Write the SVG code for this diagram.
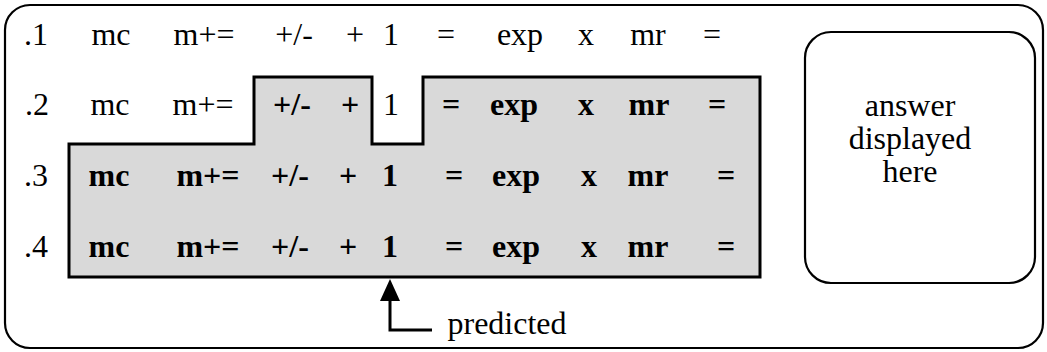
<svg xmlns="http://www.w3.org/2000/svg" width="1047" height="352" viewBox="0 0 1047 352" font-family="'Liberation Serif', 'Times New Roman', serif">
<style>
text{font-family:'Liberation Serif','Times New Roman',serif;font-size:32px;fill:#000;text-anchor:middle}
.s{font-weight:bold}
.box{fill:none;stroke:#000;stroke-width:2.2}
</style>
<rect width="1047" height="352" fill="#fff"/>
<g id="frame"><rect class="box" x="5" y="5" width="1038" height="343" rx="25" ry="25"/></g>
<g id="predicted-region">
<path d="M69,144 L254,144 L254,77 L372,77 L372,144 L423,144 L423,77 L760,77 L760,277 L69,277 Z" fill="#d9d9d9" stroke="#000" stroke-width="3"/>
</g>
<g id="row1" font-family="'Liberation Serif', serif">
<text x="36" y="45">.1</text><text x="111" y="45">mc</text><text x="204" y="45">m+=</text><text x="294" y="45">+/-</text><text x="355" y="45">+</text><text x="391" y="45">1</text><text x="446" y="45">=</text><text x="520" y="45">exp</text><text x="586" y="45">x</text><text x="648" y="45">mr</text><text x="712" y="45">=</text>
</g>
<g id="row2" font-family="'Liberation Serif', serif">
<text x="37" y="115">.2</text><text x="110" y="115">mc</text><text x="203" y="115">m+=</text><text class="s" x="292" y="115">+/-</text><text class="s" x="350" y="115">+</text><text x="391" y="115">1</text><text class="s" x="451" y="115">=</text><text class="s" x="514" y="115">exp</text><text class="s" x="586" y="115">x</text><text class="s" x="649" y="115">mr</text><text class="s" x="717" y="115">=</text>
</g>
<g id="row3" font-family="'Liberation Serif', serif">
<text x="36" y="186">.3</text><text class="s" x="109" y="186">mc</text><text class="s" x="208" y="186">m+=</text><text class="s" x="290" y="186">+/-</text><text class="s" x="348" y="186">+</text><text class="s" x="390" y="186">1</text><text class="s" x="454" y="186">=</text><text class="s" x="516" y="186">exp</text><text class="s" x="589" y="186">x</text><text class="s" x="648" y="186">mr</text><text class="s" x="726" y="186">=</text>
</g>
<g id="row4" font-family="'Liberation Serif', serif">
<text x="36" y="257">.4</text><text class="s" x="109" y="257">mc</text><text class="s" x="208" y="257">m+=</text><text class="s" x="290" y="257">+/-</text><text class="s" x="348" y="257">+</text><text class="s" x="390" y="257">1</text><text class="s" x="454" y="257">=</text><text class="s" x="516" y="257">exp</text><text class="s" x="589" y="257">x</text><text class="s" x="648" y="257">mr</text><text class="s" x="726" y="257">=</text>
</g>
<g id="answer" font-family="'Liberation Serif', serif">
<rect class="box" x="805" y="32" width="230" height="251" rx="26" ry="26" stroke-width="2.5"/>
<text x="910" y="116">answer</text><text x="910" y="149">displayed</text><text x="910" y="182">here</text>
</g>
<g id="connectors">
<path d="M432,330 L390,330 L390,296" fill="none" stroke="#000" stroke-width="3"/>
<path d="M390,279 L400,301 L380,301 Z" fill="#000"/>
</g>
<g id="label" font-family="'Liberation Serif', serif"><text x="507" y="334">predicted</text></g>
</svg>
